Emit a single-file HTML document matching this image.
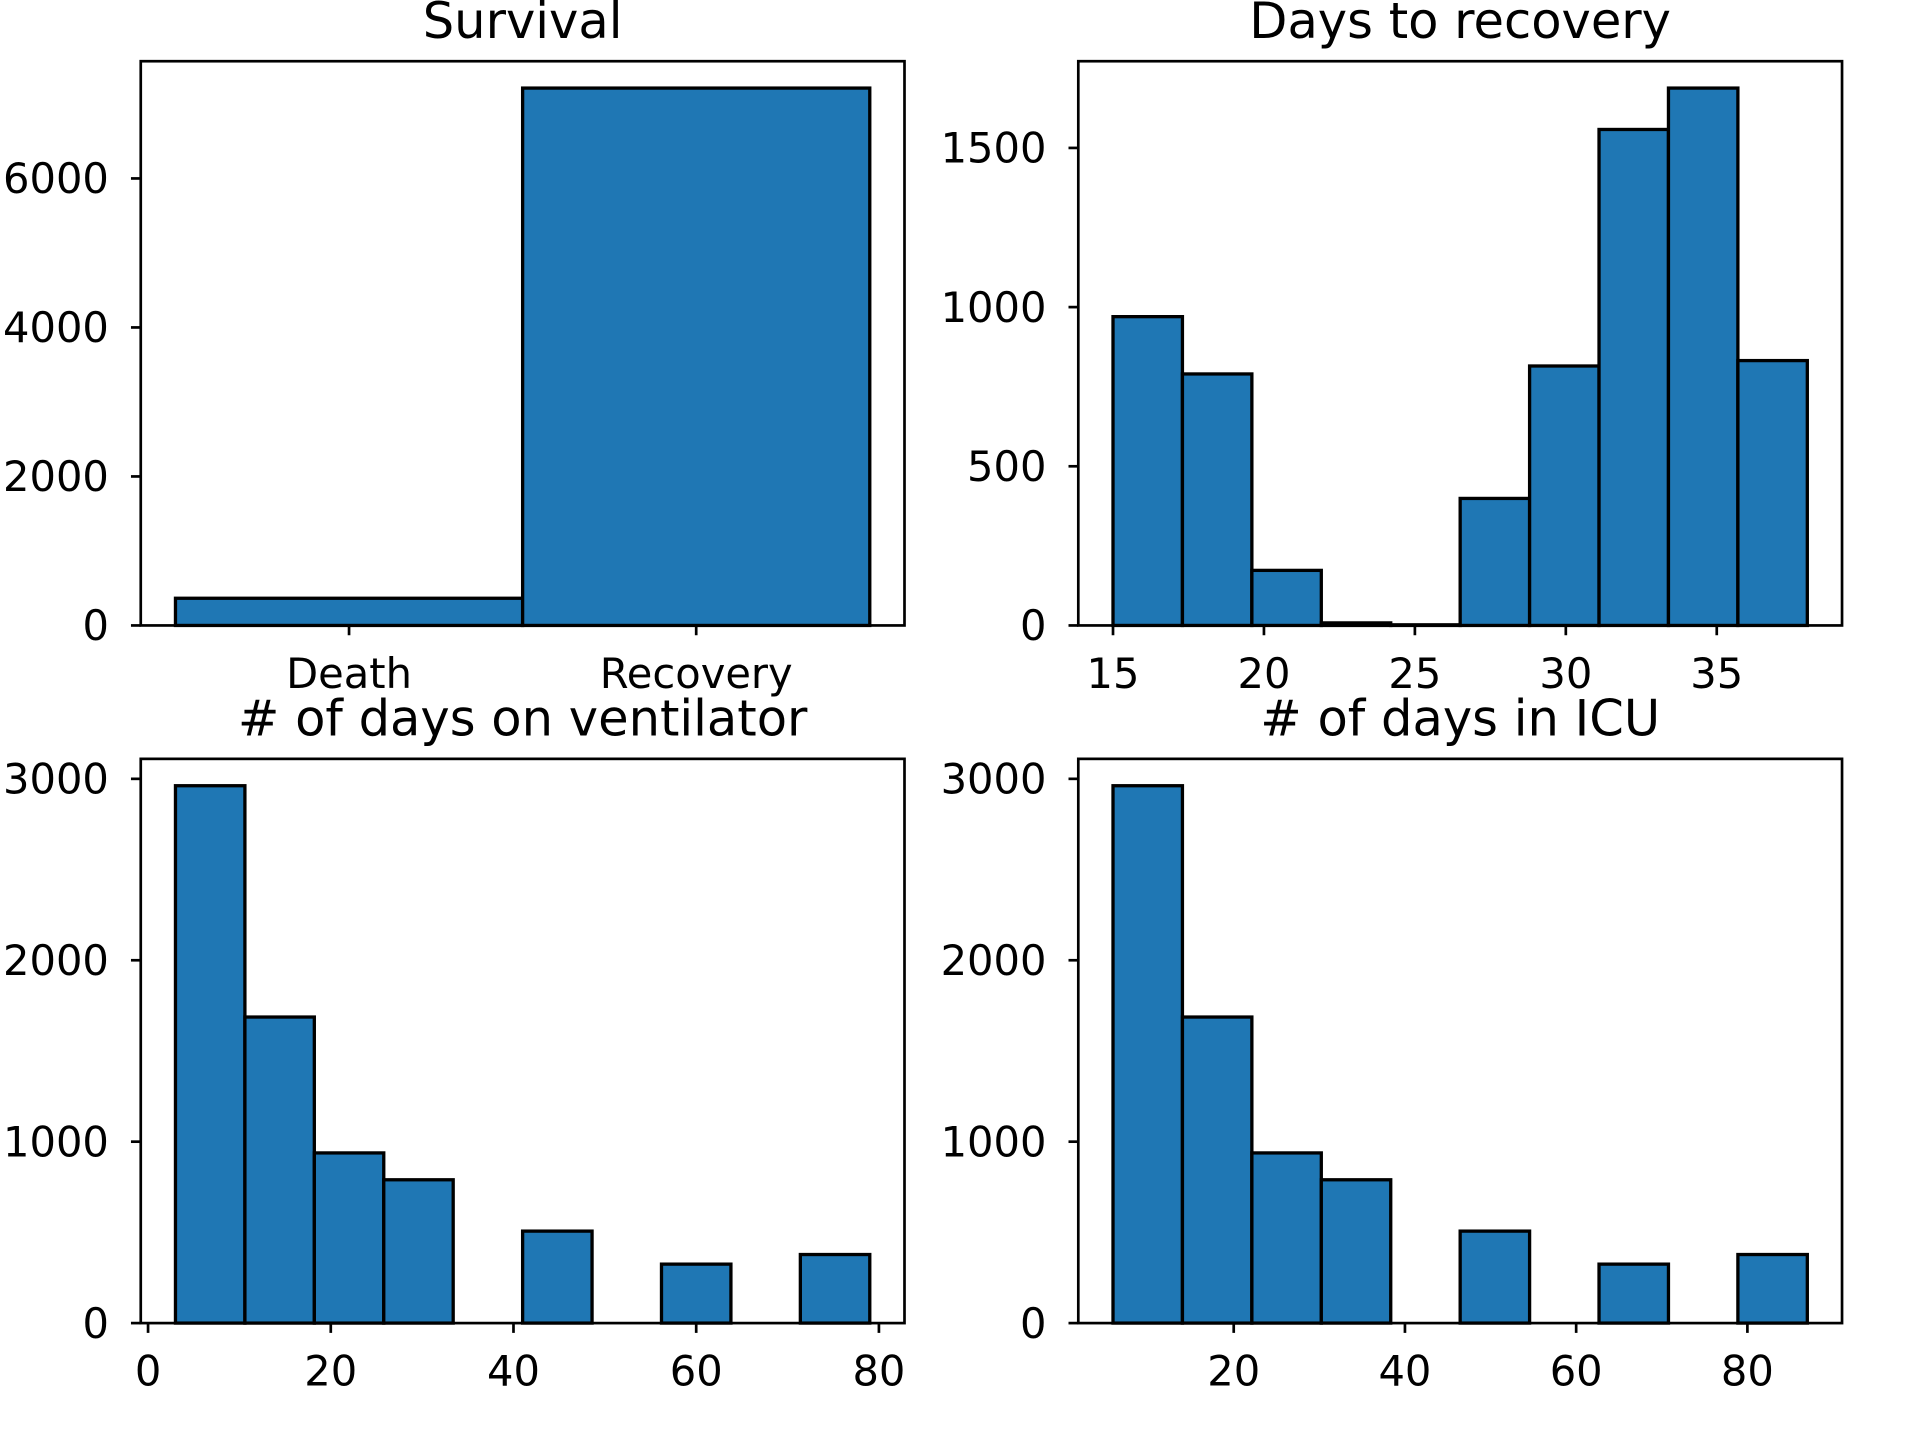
<!DOCTYPE html>
<html><head><meta charset="utf-8"><style>
html,body{margin:0;padding:0;background:#fff;}
svg{display:block;font-family:"DejaVu Sans","Liberation Sans",sans-serif;}
</style></head><body>
<svg id="fig" width="1920" height="1440" viewBox="0 0 1568.7 1176.5" xmlns="http://www.w3.org/2000/svg"></svg>
<script>
// Survival
const survivalCategories = ["Death", "Recovery"];
const survivalCounts = [365, 7213];
// Days to recovery
const recoveryBinStart = 15;
const recoveryBinWidth = 2.3;
const recoveryCounts = [970, 790, 173, 8, 2, 399, 815, 1558, 1688, 832];
const recoveryYTicks = [0, 500, 1000, 1500];
const recoveryXTicks = [15, 20, 25, 30, 35];
// Ventilator
const ventBinStart = 3;
const ventBinWidth = 7.6;
const ventCounts = [2962, 1687, 938, 790, 0, 507, 0, 325, 0, 378];
const ventXTicks = [0, 20, 40, 60, 80];
const ventYTicks = [0, 1000, 2000, 3000];
// ICU
const icuBinStart = 5.9;
const icuBinWidth = 8.11;
const icuCounts = [2962, 1687, 938, 790, 0, 507, 0, 325, 0, 378];
const icuXTicks = [20, 40, 60, 80];
const icuYTicks = [0, 1000, 2000, 3000];
const survivalYTicks = [0, 2000, 4000, 6000];

const NS = "http://www.w3.org/2000/svg";
const fig = document.getElementById('fig');
function mk(tag, attrs, parent, text) {
  const e = document.createElementNS(NS, tag);
  for (const k in attrs) e.setAttribute(k, attrs[k]);
  if (text !== undefined) e.textContent = text;
  parent.appendChild(e);
  return e;
}

function panel(name, box, title, bars, xmin, xmax, ymax, xticks, yticks) {
  const g = mk('g', {}, fig);
  
  
  const [L, T, R, B] = box;
  const sx = v => L + (v - xmin) / (xmax - xmin) * (R - L);
  const sy = v => B - v / ymax * (B - T);
  for (const b of bars) {
    const r = mk('rect', {x: sx(b.x0), y: sy(b.h), width: sx(b.x1) - sx(b.x0), height: B - sy(b.h),
      fill: '#1f77b4', stroke: '#000', 'stroke-width': 2.7}, g);
    
    
  }
  const frame = mk('rect', {x: L, y: T, width: R - L, height: B - T, fill: 'none', stroke: '#000', 'stroke-width': 2.2}, g);
  
  
  for (const t of xticks) {
    const x = sx(t.v);
    mk('line', {x1: x, x2: x, y1: B, y2: B + 8, stroke: '#000', 'stroke-width': 2.2}, g);
    const lbl = mk('text', {x: x, y: B + 51, 'text-anchor': 'middle', 'font-size': 34}, g, t.label);
    
    
  }
  for (const v of yticks) {
    const y = sy(v);
    mk('line', {x1: L - 8, x2: L, y1: y, y2: y, stroke: '#000', 'stroke-width': 2.2}, g);
    const lbl = mk('text', {x: L - 26, y: y + 12, 'text-anchor': 'end', 'font-size': 34}, g, String(v));
    
    
  }
  const tt = mk('text', {x: (L + R) / 2, y: T - 19, 'text-anchor': 'middle', 'font-size': 40.5}, g, title);
  
  
}

function histBars(start, w, counts) {
  return counts.map((c, i) => ({x0: start + i * w, x1: start + (i + 1) * w, h: c}));
}
function lims(bars) {
  const a = bars[0].x0, b = bars[bars.length - 1].x1, m = (b - a) * 0.05;
  return [a - m, b + m];
}
function ymaxOf(counts) { return Math.max(...counts) * 1.05; }

{
  const bars = survivalCounts.map((c, i) => ({x0: i - 0.5, x1: i + 0.5, h: c}));
  panel('survival-chart', [115, 50, 739, 511], 'Survival', bars, -0.6, 1.6, ymaxOf(survivalCounts),
    survivalCategories.map((c, i) => ({v: i, label: c})), survivalYTicks);
}
{
  const bars = histBars(recoveryBinStart, recoveryBinWidth, recoveryCounts);
  const [a, b] = lims(bars);
  panel('days-to-recovery-chart', [881, 50, 1505, 511], 'Days to recovery', bars, a, b, ymaxOf(recoveryCounts),
    recoveryXTicks.map(v => ({v, label: String(v)})), recoveryYTicks);
}
{
  const bars = histBars(ventBinStart, ventBinWidth, ventCounts);
  const [a, b] = lims(bars);
  panel('ventilator-days-chart', [115, 620, 739, 1081], '# of days on ventilator', bars, a, b, ymaxOf(ventCounts),
    ventXTicks.map(v => ({v, label: String(v)})), ventYTicks);
}
{
  const bars = histBars(icuBinStart, icuBinWidth, icuCounts);
  const [a, b] = lims(bars);
  panel('icu-days-chart', [881, 620, 1505, 1081], '# of days in ICU', bars, a, b, ymaxOf(icuCounts),
    icuXTicks.map(v => ({v, label: String(v)})), icuYTicks);
}
</script>
</body></html>
